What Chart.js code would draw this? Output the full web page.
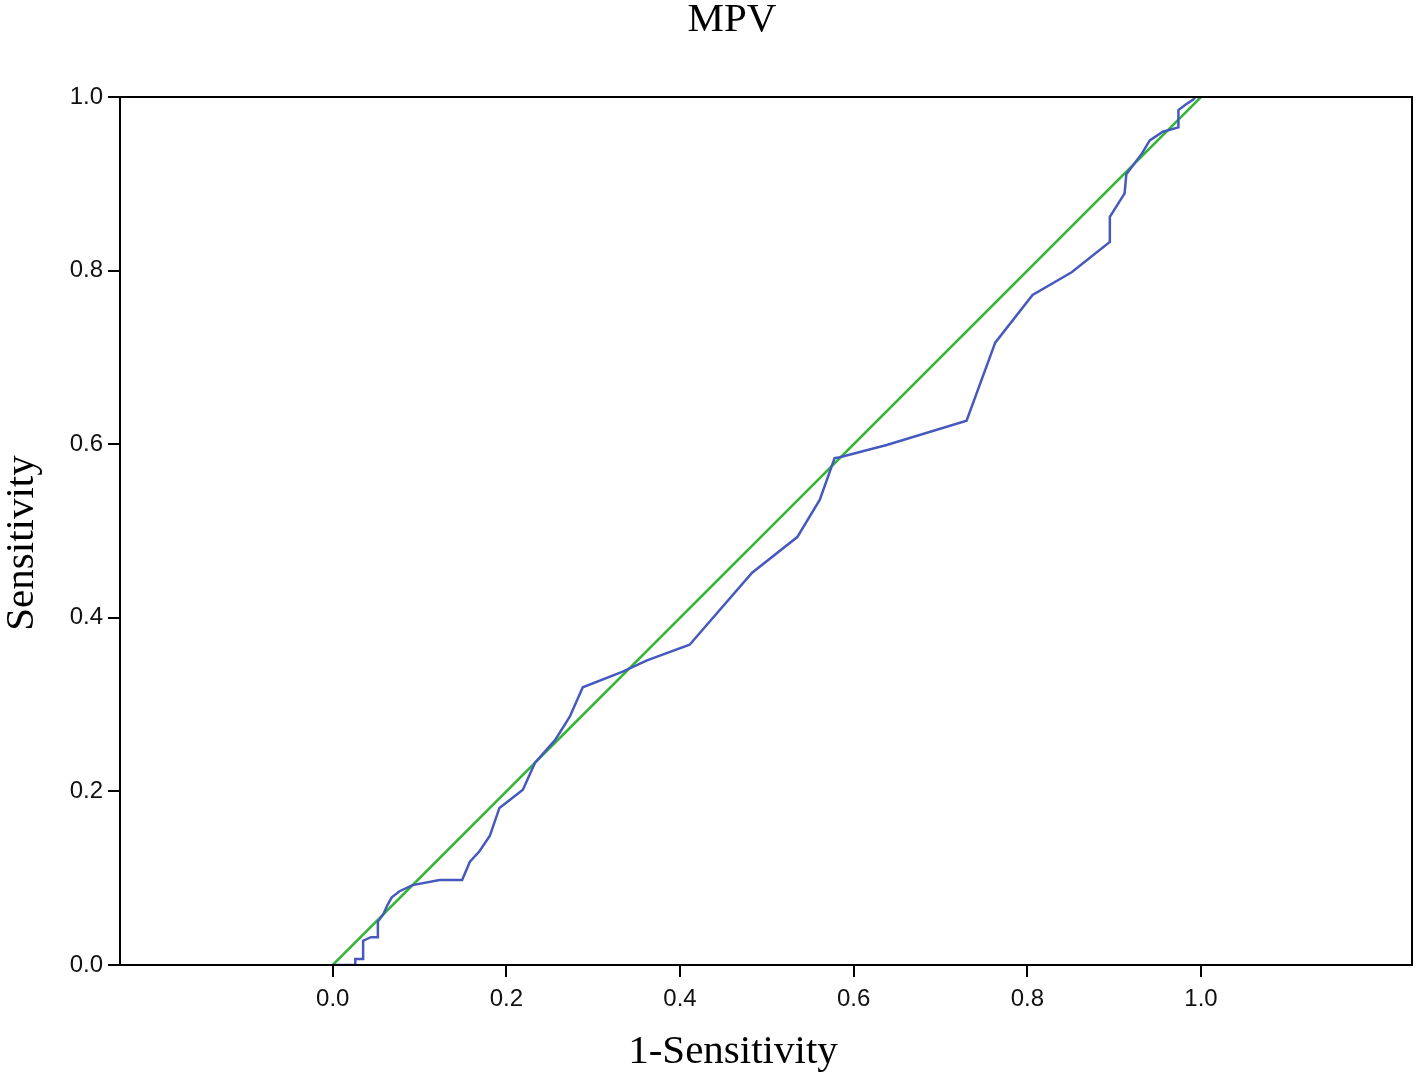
<!DOCTYPE html>
<html>
<head>
<meta charset="utf-8">
<script src="https://cdn.jsdelivr.net/npm/chart.js@4.4.1/dist/chart.umd.min.js"></script>
<style>
  html, body { margin: 0; padding: 0; background: #fff; }
  #wrap { width: 1418px; height: 1074px; }
</style>
</head>
<body>
<div id="wrap"><canvas id="rocChart" width="1418" height="1074"></canvas></div>
<script>
// ROC curve points
const falsePosRate = [0, 0.026, 0.026, 0.035, 0.035, 0.044, 0.051, 0.052, 0.058, 0.063, 0.068, 0.077,
  0.092, 0.123, 0.149, 0.158, 0.169, 0.181, 0.192, 0.219, 0.233, 0.256, 0.273, 0.288, 0.334, 0.362,
  0.411, 0.483, 0.535, 0.561, 0.578, 0.584, 0.638, 0.730, 0.763, 0.806, 0.851, 0.895, 0.895, 0.912,
  0.914, 0.932, 0.941, 0.956, 0.974, 0.974, 0.982, 0.991, 0.993, 1.0];
const truePosRate = [0, 0, 0.007, 0.007, 0.028, 0.032, 0.032, 0.050, 0.058, 0.069, 0.078, 0.085,
  0.092, 0.098, 0.098, 0.119, 0.131, 0.149, 0.181, 0.202, 0.233, 0.259, 0.286, 0.320, 0.338, 0.351,
  0.369, 0.452, 0.493, 0.536, 0.584, 0.585, 0.599, 0.627, 0.717, 0.772, 0.798, 0.833, 0.862, 0.889,
  0.911, 0.935, 0.950, 0.960, 0.965, 0.985, 0.991, 0.997, 1.0, 1.0];
const refX = [0, 1];
const refY = [0, 1];
const tickValues = [0, 0.2, 0.4, 0.6, 0.8, 1.0];

const chartTitle = "MPV";
const xTitle = "1-Sensitivity";
const yTitle = "Sensitivity";

const serif = "41px 'Liberation Serif', 'Times New Roman', serif";

// frame round the plot area plus the titles (SPSS puts them off-centre)
const frameAndTitles = {
  id: "frameAndTitles",
  afterDraw(chart) {
    const { ctx, chartArea } = chart;
    ctx.save();
    ctx.strokeStyle = "#000";
    ctx.lineWidth = 2;
    ctx.strokeRect(chartArea.left, chartArea.top, chartArea.right - chartArea.left, chartArea.bottom - chartArea.top);

    ctx.fillStyle = "#000";
    ctx.font = serif;
    ctx.textAlign = "center";
    ctx.textBaseline = "alphabetic";
    ctx.fillText(chartTitle, 732, 31);
    ctx.fillText(xTitle, 733, 1063);

    ctx.translate(33, 543);
    ctx.rotate(-Math.PI / 2);
    ctx.fillText(yTitle, 0, 0);
    ctx.restore();
  }
};

const tickFont = { family: "Liberation Sans, Arial, sans-serif", size: 24 };

new Chart(document.getElementById("rocChart"), {
  type: "scatter",
  data: {
    datasets: [
      {
        label: "Reference",
        data: refX.map((x, i) => ({ x: x, y: refY[i] })),
        showLine: true,
        borderColor: "#35b536",
        borderWidth: 2.5,
        pointRadius: 0,
        order: 2
      },
      {
        label: "MPV",
        data: falsePosRate.map((x, i) => ({ x: x, y: truePosRate[i] })),
        showLine: true,
        borderColor: "#4659bf",
        borderWidth: 2.5,
        pointRadius: 0,
        order: 1
      }
    ]
  },
  options: {
    responsive: false,
    animation: false,
    layout: { padding: { left: 0, right: 6, top: 97, bottom: 0 } },
    plugins: {
      legend: { display: false },
      tooltip: { enabled: false },
      title: { display: false }
    },
    scales: {
      x: {
        type: "linear",
        min: -0.245,
        max: 1.243,
        afterBuildTicks: (scale) => { scale.ticks = tickValues.map((v) => ({ value: v })); },
        afterFit: (scale) => { scale.height = 109; },
        ticks: {
          color: "#111",
          font: tickFont,
          padding: 8,
          maxRotation: 0,
          callback: (v) => v.toFixed(1)
        },
        grid: { drawOnChartArea: false, drawTicks: true, tickLength: 12, color: "#000", lineWidth: 2 },
        border: { display: true, color: "#000", width: 2 }
      },
      y: {
        type: "linear",
        min: 0,
        max: 1,
        afterBuildTicks: (scale) => { scale.ticks = tickValues.map((v) => ({ value: v })); },
        afterFit: (scale) => { scale.width = 120; },
        ticks: {
          color: "#111",
          font: tickFont,
          padding: 5,
          callback: (v) => v.toFixed(1)
        },
        grid: { drawOnChartArea: false, drawTicks: true, tickLength: 12, color: "#000", lineWidth: 2 },
        border: { display: true, color: "#000", width: 2 }
      }
    }
  },
  plugins: [frameAndTitles]
});
</script>
</body>
</html>
